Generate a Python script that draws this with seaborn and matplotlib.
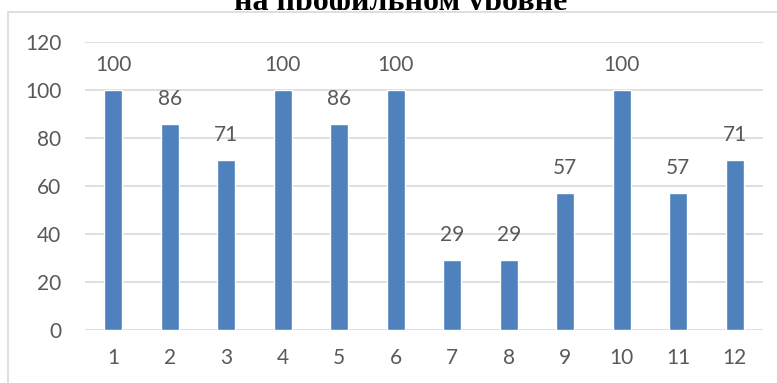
import matplotlib
matplotlib.use("Agg")
import matplotlib.pyplot as plt
import seaborn as sns
import pandas as pd
from matplotlib.patches import Rectangle
from matplotlib.transforms import Bbox

categories = ["1", "2", "3", "4", "5", "6", "7", "8", "9", "10", "11", "12"]
values = [100, 86, 71, 100, 86, 100, 29, 29, 57, 100, 57, 71]
y_ticks = [0, 20, 40, 60, 80, 100, 120]
title_line = "на профильном уровне"

BAR = "#4F81BD"
TXT = "#595959"
GRID = "#D9D9D9"

sns.set_theme(style="white")
plt.rcParams["font.family"] = ["Lato", "DejaVu Sans"]

W, H = 777, 383
fig = plt.figure(figsize=(W / 100, H / 100), dpi=100)
ax = fig.add_axes([85 / W, (H - 330) / H, (763 - 85) / W, (330 - 42) / H])

df = pd.DataFrame({"cat": categories, "val": values})
sns.barplot(data=df, x="cat", y="val", color=BAR, saturation=1, width=0.31, ax=ax, zorder=3)

ax.set_xlim(-0.5, len(categories) - 0.5)
ax.set_ylim(0, 120)
ax.set_yticks(y_ticks)
ax.set_yticklabels([str(t) for t in y_ticks])
ax.set_xlabel("")
ax.set_ylabel("")
ax.grid(axis="y", color=GRID, linewidth=1.2, zorder=0)
ax.set_axisbelow(True)
for s in ax.spines.values():
    s.set_visible(False)
ax.tick_params(axis="both", length=0, labelsize=15, colors=TXT)
ax.tick_params(axis="y", pad=17)
ax.tick_params(axis="x", pad=13)

for i, v in enumerate(values):
    ax.annotate(str(v), (i, v), xytext=(0, 25), textcoords="offset pixels",
                ha="center", va="center", fontsize=15, color=TXT)

# chart area border
fig.add_artist(Rectangle((8 / W, -0.1), 2, (1 - 12 / H) + 0.1, transform=fig.transFigure,
                         fill=False, edgecolor=GRID, linewidth=1.2))

t = fig.text(401 / W, 1 - 10 / H, title_line, ha="center", va="baseline",
             fontfamily="Liberation Serif", fontweight="bold", fontsize=23, color="black")
t.set_clip_box(Bbox([[0, H - 10], [W, H]]))
t.set_clip_on(True)

fig.savefig("out.png", dpi=100)
